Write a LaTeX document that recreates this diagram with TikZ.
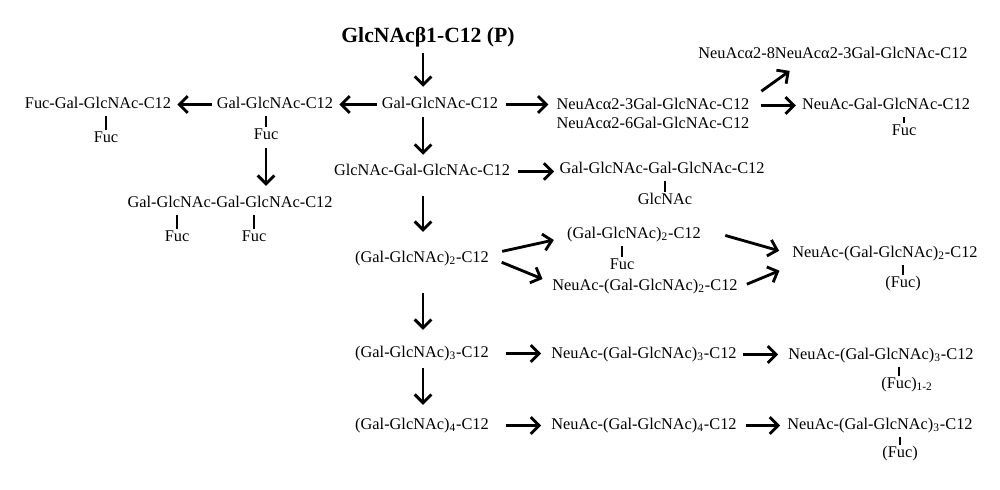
\documentclass[tikz,border=0pt]{standalone}
\usepackage{fontspec}
\setmainfont{Liberation Serif}
\usetikzlibrary{arrows.meta}

\tikzset{
    zucker/.style = {font=\fontsize{9.8}{11.4}\selectfont, inner sep=2pt, text height=7pt, text depth=2.3pt},
    rest/.style   = {zucker, inner sep=0.5pt},
    pfeil/.style  = {line width=1.7pt, -{Straight Barb[length=5pt, width=10pt]}},
    strich/.style = {line width=1.1pt},
}

\begin{document}
\begin{tikzpicture} [x=0.6pt, y=-0.6pt]
    \useasboundingbox (0, 0) rectangle (1000, 489);

    % Start
    \node [font=\fontsize{13}{15}\selectfont\bfseries] (titel) at (428, 37) {GlcNAcβ1-C12 (P)};
    \coordinate (spalte) at (423, 0);

    % Reihe 1
    \node [zucker] (g0) at (440, 104.5) {Gal-GlcNAc-C12};
    \node [zucker] (g1) at (275, 104.5) {Gal-GlcNAc-C12};
    \node [zucker] (g2) at (98, 104.5)  {Fuc-Gal-GlcNAc-C12};
    \node [rest] (f2) at (106, 138.5) {Fuc};
    \node [rest] (f1) at (266, 135.5) {Fuc};
    \node [font=\fontsize{9.8}{11.4}\selectfont, inner sep=2pt, align=left, anchor=base west] (n23) at (553, 128.5)
        {NeuAcα2-3Gal-GlcNAc-C12\\NeuAcα2-6Gal-GlcNAc-C12};
    \node [zucker] (n8) at (833, 54.5)  {NeuAcα2-8NeuAcα2-3Gal-GlcNAc-C12};
    \node [zucker] (n5) at (886, 105.5) {NeuAc-Gal-GlcNAc-C12};
    \node [rest] (f6) at (904, 131.5) {Fuc};

    % Reihe 2
    \node [zucker] (g3)  at (230, 203.5) {Gal-GlcNAc-Gal-GlcNAc-C12};
    \node [rest] (f3a) at (177, 237.5) {Fuc};
    \node [rest] (f3b) at (254, 237.5) {Fuc};
    \node [zucker] (g4)  at (422, 171.5) {GlcNAc-Gal-GlcNAc-C12};
    \node [zucker] (g5)  at (662, 169.5) {Gal-GlcNAc-Gal-GlcNAc-C12};
    \node [rest] (f5)  at (665, 200.5) {GlcNAc};

    % (Gal-GlcNAc)_2
    \node [zucker] (p2)   at (422, 258.5) {(Gal-GlcNAc)\textsubscript{2}-C12};
    \node [zucker] (p2f)  at (634, 234.5) {(Gal-GlcNAc)\textsubscript{2}-C12};
    \node [rest] (f7)   at (622, 265.5) {Fuc};
    \node [zucker] (p2n)  at (645, 286.5) {NeuAc-(Gal-GlcNAc)\textsubscript{2}-C12};
    \node [zucker] (p2nf) at (885, 253.5) {NeuAc-(Gal-GlcNAc)\textsubscript{2}-C12};
    \node [rest] (f8)   at (903, 283.5) {(Fuc)};

    % (Gal-GlcNAc)_3 und _4
    \node [zucker] (p3)   at (422, 353.5) {(Gal-GlcNAc)\textsubscript{3}-C12};
    \node [zucker] (p3n)  at (644, 354.5) {NeuAc-(Gal-GlcNAc)\textsubscript{3}-C12};
    \node [zucker] (p3nf) at (881, 355.5) {NeuAc-(Gal-GlcNAc)\textsubscript{3}-C12};
    \node [rest] (f9)   at (899, 384.5) {(Fuc)\rlap{\textsubscript{1-2}}};
    \node [zucker] (p4)   at (422, 425.5) {(Gal-GlcNAc)\textsubscript{4}-C12};
    \node [zucker] (p4n)  at (644, 425.5) {NeuAc-(Gal-GlcNAc)\textsubscript{4}-C12};
    \node [zucker] (p4nf) at (880, 425.5) {NeuAc-(Gal-GlcNAc)\textsubscript{3}-C12};
    \node [rest] (f10)  at (900, 453.5) {(Fuc)};

    % Senkrechte Pfeile
    \draw [pfeil, shorten >=3.8pt] (titel.south -| spalte) -- (g0.north -| spalte);
    \draw [pfeil, shorten <=0.8pt, shorten >=3.2pt] (g0.south -| spalte) -- (g4.north -| spalte);
    \draw [pfeil, shorten <=8pt, shorten >=9.2pt] (g4.south -| spalte) -- (p2.north -| spalte);
    \draw [pfeil, shorten <=14pt, shorten >=7.4pt] (p2.south -| spalte) -- (p3.north -| spalte);
    \draw [pfeil, shorten <=2pt, shorten >=5.6pt] (p3.south -| spalte) -- (p4.north -| spalte);
    \draw [pfeil, shorten <=2pt, shorten >=3.8pt] (f1.south) -- (f1.south |- g3.north);

    % Waagerechte Pfeile
    \draw [pfeil, shorten <=1pt, shorten >=1.6pt] (g0.west) -- (g1.east);
    \draw [pfeil, shorten <=1pt, shorten >=1.6pt] (g1.west) -- (g2.east);
    \draw [pfeil, shorten <=2.8pt, shorten >=2.8pt] (g0.east) -- (g0.east -| n23.west);
    \draw [pfeil, shorten <=4.6pt, shorten >=1.6pt] (n5.west -| n23.east) -- (n5.west);
    \draw [pfeil] ([xshift=5pt, yshift=2pt]n23.north east) -- ([xshift=-26pt, yshift=-3pt]n8.south);
    \draw [pfeil, shorten <=2.8pt, shorten >=1pt] (g4.east) -- (g4.east -| g5.west);

    \draw [pfeil, shorten <=6pt, shorten >=6pt] ([yshift=3pt]p2.east) -- ([yshift=-2pt]p2f.west);
    \draw [pfeil, shorten <=6pt, shorten >=4pt] (p2.east) -- ([yshift=3pt]p2n.west);
    \draw [pfeil, shorten <=13pt, shorten >=6pt] ([yshift=3pt]p2f.east) -- (p2nf.west);
    \draw [pfeil, shorten <=3.6pt, shorten >=6pt] (p2n.east) -- ([yshift=-8pt]p2nf.west);

    \draw [pfeil, shorten <=7.9pt, shorten >=4pt] (p3.east) -- (p3.east -| p3n.west);
    \draw [pfeil, shorten <=1.6pt, shorten >=4pt] (p3n.east) -- (p3n.east -| p3nf.west);
    \draw [pfeil, shorten <=7.9pt, shorten >=4pt] (p4.east) -- (p4.east -| p4n.west);
    \draw [pfeil, shorten <=3.4pt, shorten >=2.2pt] (p4n.east) -- (p4n.east -| p4nf.west);

    % Seitenketten
    \draw [strich] (g2.south -| f2.north) -- (f2.north);
    \draw [strich] (g1.south -| f1.north) -- (f1.north);
    \draw [strich] (g3.south -| f3a.north) -- (f3a.north);
    \draw [strich] (g3.south -| f3b.north) -- (f3b.north);
    \draw [strich] (g5.south -| f5.north) -- (f5.north);
    \draw [strich] (n5.south -| f6.north) -- (f6.north);
    \draw [strich] (p2f.south -| f7.north) -- (f7.north);
    \draw [strich] (p2nf.south -| f8.north) -- (f8.north);
    \draw [strich] (p3nf.south -| f9.north) -- (f9.north);
    \draw [strich] (p4nf.south -| f10.north) -- (f10.north);
\end{tikzpicture}
\end{document}
